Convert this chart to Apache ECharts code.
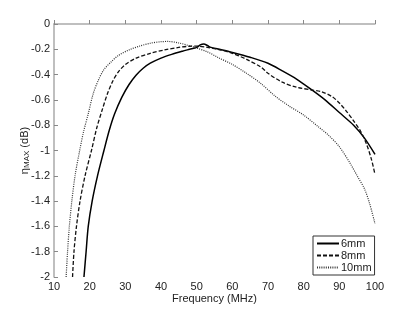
<!DOCTYPE html>
<html><head><meta charset="utf-8">
<script src="https://cdn.jsdelivr.net/npm/echarts@6/dist/echarts.min.js"></script>
<style>html,body{margin:0;padding:0;background:#fff}#c{width:415px;height:312px}</style>
</head><body><div id="c"></div>
<script>
var seriesNames = ['6mm', '8mm', '10mm'];
var xTicks = [10, 20, 30, 40, 50, 60, 70, 80, 90, 100];
var yTicks = [0, -0.2, -0.4, -0.6, -0.8, -1, -1.2, -1.4, -1.6, -1.8, -2];
var data6mm = [[18.4,-2.0],[19.0,-1.8],[19.6,-1.6],[20.7,-1.4],[22.2,-1.2],[24.0,-1.0],[25.5,-0.84],[27,-0.71],[29,-0.58],[31,-0.48],[33,-0.405],[35,-0.35],[37,-0.31],[40,-0.27],[43,-0.24],[46,-0.215],[48,-0.2],[50,-0.185],[51,-0.165],[52,-0.158],[53,-0.17],[54,-0.185],[56,-0.198],[60,-0.225],[65,-0.263],[70,-0.31],[74,-0.37],[78,-0.435],[82,-0.515],[86,-0.6],[90,-0.7],[94,-0.8],[97,-0.9],[100,-1.03]];
var data8mm = [[15.2,-2.0],[15.6,-1.8],[16.3,-1.6],[17.3,-1.4],[18.7,-1.2],[20.5,-1.0],[22,-0.82],[23.5,-0.68],[25,-0.55],[26.5,-0.45],[28,-0.38],[30,-0.32],[33,-0.27],[37,-0.232],[41,-0.205],[45,-0.185],[48,-0.176],[50,-0.175],[53,-0.185],[56,-0.2],[60,-0.232],[64,-0.28],[68,-0.34],[70,-0.39],[74,-0.46],[78,-0.5],[82,-0.52],[85,-0.535],[88,-0.575],[90,-0.625],[92,-0.69],[94,-0.765],[96,-0.85],[97.5,-0.94],[99,-1.07],[100,-1.19]];
var data10mm = [[13.4,-2.0],[13.8,-1.8],[14.3,-1.6],[15.0,-1.4],[15.9,-1.2],[17.2,-1.0],[18.3,-0.85],[19.6,-0.71],[21,-0.55],[22.5,-0.44],[24,-0.36],[26,-0.3],[28,-0.25],[31,-0.205],[34,-0.175],[37,-0.152],[40,-0.14],[42,-0.138],[45,-0.15],[48,-0.172],[50,-0.19],[53,-0.22],[56,-0.265],[60,-0.32],[64,-0.39],[68,-0.47],[72,-0.57],[76,-0.65],[80,-0.72],[84,-0.81],[87,-0.88],[90,-0.97],[93,-1.1],[95,-1.2],[97,-1.3],[98.5,-1.42],[100,-1.58]];

var chart = echarts.init(document.getElementById('c'), null, {renderer: 'canvas'});
var font = 'Liberation Sans, Arial, sans-serif';
function mk(name, data, type, color, width) {
  return {
    name: name, type: 'line', data: data, smooth: 0.3, symbol: 'none',
    lineStyle: {color: color, width: width, type: type},
    itemStyle: {color: color},
    animation: false
  };
}
chart.setOption({
  animation: false,
  grid: {left: 54, right: 40, top: 24, bottom: 35},
  legend: {
    orient: 'vertical', left: 313, top: 236,
    data: seriesNames,
    backgroundColor: '#fff', borderColor: '#333', borderWidth: 1,
    padding: [2, 3, 2, 3], itemGap: 1, itemWidth: 22, itemHeight: 11,
    itemStyle: {opacity: 0, color: 'transparent', borderWidth: 0},
    textStyle: {fontFamily: font, fontSize: 11, color: '#222', padding: [0, 0, 0, -3]}
  },
  xAxis: {
    type: 'value', min: 10, max: 100, interval: 10,
    name: 'Frequency (MHz)', nameLocation: 'middle', nameGap: 16, nameMoveOverlap: false,
    nameTextStyle: {fontFamily: font, fontSize: 11, color: '#222'},
    axisLine: {show: true, lineStyle: {color: '#aaa', width: 1.5}},
    axisTick: {show: true, inside: true, length: 4, lineStyle: {color: '#888'}},
    axisLabel: {fontFamily: font, fontSize: 11, color: '#222', margin: 4,
      formatter: function (v) { return xTicks.indexOf(v) >= 0 ? String(v) : ''; }},
    splitLine: {show: false}
  },
  yAxis: {
    type: 'value', min: -2, max: 0, interval: 0.2,
    name: '{a|η}{b|MAX}{a| (dB)}', nameLocation: 'middle', nameGap: 23, nameMoveOverlap: false,
    nameTextStyle: {rich: {
      a: {fontFamily: font, fontSize: 11, color: '#222'},
      b: {fontFamily: font, fontSize: 8, color: '#222', verticalAlign: 'bottom', padding: [5, 0, 0, 0]}
    }},
    axisLine: {show: true, lineStyle: {color: '#aaa', width: 1.5}},
    axisTick: {show: true, inside: true, length: 4, lineStyle: {color: '#888'}},
    axisLabel: {fontFamily: font, fontSize: 11, color: '#222', margin: 4,
      formatter: function (v) {
        var r = Math.round(v * 10) / 10;
        for (var i = 0; i < yTicks.length; i++) { if (Math.abs(yTicks[i] - r) < 1e-9) return String(yTicks[i]); }
        return '';
      }},
    splitLine: {show: false}
  },
  series: [
    mk(seriesNames[0], data6mm, 'solid', '#000', 1.5),
    mk(seriesNames[1], data8mm, [4, 2], '#111', 1.3),
    mk(seriesNames[2], data10mm, [1, 1.2], '#333', 1.2)
  ]
});
</script></body></html>
